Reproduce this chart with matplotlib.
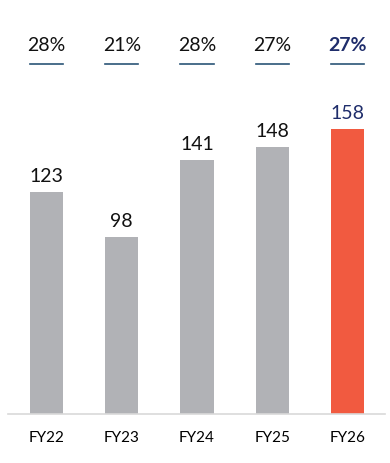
import matplotlib.pyplot as plt

# data
years = ['FY22', 'FY23', 'FY24', 'FY25', 'FY26']
values = [123, 98, 141, 148, 158]
margins = ['28%', '21%', '28%', '27%', '27%']

grey = '#B1B2B6'
orange = '#F15A40'
navy = '#1F2D6B'
line_col = '#2B5577'

plt.rcParams['font.family'] = ['Lato', 'DejaVu Sans']

fig = plt.figure(figsize=(3.9, 4.63), dpi=100)
ax = fig.add_axes([8 / 390, 49 / 463, 377 / 390, 414 / 463])

x = list(range(len(years)))
colors = [grey] * (len(years) - 1) + [orange]
bars = ax.bar(x, values, width=0.44, color=colors)

ax.set_xlim(-0.513, 4.5)
ax.set_ylim(0, 229.5)

# value labels above bars
for i, v in enumerate(values):
    last = i == len(values) - 1
    ax.annotate(str(v), (i, v), xytext=(0, 5), textcoords='offset points',
                ha='center', va='bottom', fontsize=14,
                color=navy if last else '#111111')

# margin percentages row with underline
for i, m in enumerate(margins):
    last = i == len(margins) - 1
    ax.text(i, 204, m, ha='center', va='center', fontsize=14,
            color=navy if last else '#111111',
            fontweight='bold' if last else 'normal')
    ax.plot([i - 0.22, i + 0.22], [194, 194], color=line_col, lw=1.2)

ax.set_xticks(x)
ax.set_xticklabels(years, fontsize=11)
ax.tick_params(axis='x', length=0, pad=12)
ax.set_yticks([])
for s in ['top', 'right', 'left']:
    ax.spines[s].set_visible(False)
ax.spines['bottom'].set_color('#D9D9D9')
ax.spines['bottom'].set_linewidth(1.2)

fig.savefig('out.png', dpi=100)
